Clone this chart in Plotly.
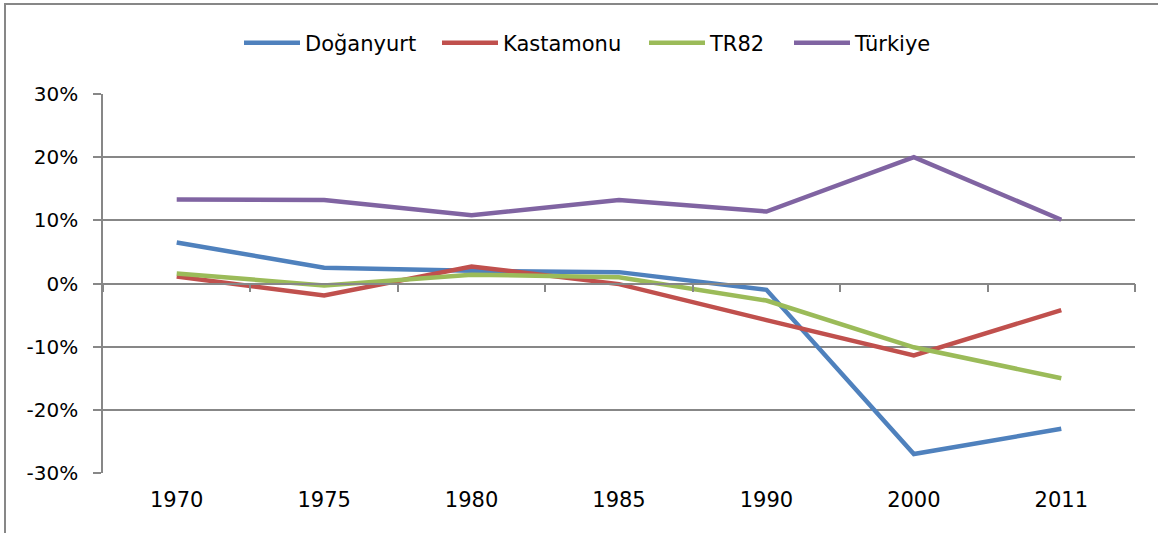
import plotly.graph_objects as go

years = ["1970", "1975", "1980", "1985", "1990", "2000", "2011"]
doganyurt = [6.5, 2.5, 2.0, 1.8, -1.0, -27.0, -23.0]
kastamonu = [1.1, -1.9, 2.7, -0.1, -5.8, -11.4, -4.2]
tr82 = [1.6, -0.3, 1.4, 1.0, -2.7, -10.1, -15.0]
turkiye = [13.3, 13.2, 10.8, 13.2, 11.4, 20.0, 10.1]
y_ticks = [-30, -20, -10, 0, 10, 20, 30]
y_tick_labels = ["-30%", "-20%", "-10%", "0%", "10%", "20%", "30%"]

series = [
    ("Doğanyurt", doganyurt, "#4F81BD"),
    ("Kastamonu", kastamonu, "#C0504D"),
    ("TR82", tr82, "#9BBB59"),
    ("Türkiye", turkiye, "#8064A2"),
]
# legend entry left edges (px in figure)
legend_px = [239, 437, 644, 789]

FONT = "DejaVu Sans"
GRID = "#878787"
W, H = 1158, 533
L, R, T, B = 103, 23, 94, 60
PW, PH = W - L - R, H - T - B

fig = go.Figure()
legend_ids = ["legend", "legend2", "legend3", "legend4"]
for (name, vals, color), lid in zip(series, legend_ids):
    fig.add_trace(go.Scatter(
        x=years, y=vals, name=name, mode="lines",
        line=dict(color=color, width=4.5), legend=lid,
    ))

# invisible trace carrying the zero-line category axis with boundary ticks
fig.add_trace(go.Scatter(
    x=years, y=[0] * len(years), xaxis="x2", mode="lines",
    line=dict(width=0), showlegend=False, hoverinfo="skip",
))

legends = {}
for lid, px in zip(legend_ids, legend_px):
    legends[lid] = dict(
        orientation="h", x=(px - L) / PW, xanchor="left",
        y=1 + 51 / PH, yanchor="middle",
        font=dict(family=FONT, size=21), itemwidth=56,
        bgcolor="rgba(0,0,0,0)",
    )

fig.update_layout(
    width=W, height=H,
    margin=dict(l=L, r=R, t=T, b=B, autoexpand=False),
    paper_bgcolor="white", plot_bgcolor="white",
    font=dict(family=FONT, size=20, color="black"),
    showlegend=True,
    xaxis=dict(
        type="category", range=[-0.5, 6.5], showgrid=False, showline=False,
        ticks="", zeroline=False, ticklabelstandoff=12,
        tickfont=dict(family=FONT, size=21),
    ),
    xaxis2=dict(
        type="category", range=[-0.5, 6.5], overlaying="x", anchor="free",
        position=0.5, showline=True, linecolor=GRID, linewidth=1.5,
        ticks="outside", tickson="boundaries", ticklen=8, tickcolor=GRID,
        tickwidth=1.5, showticklabels=False, showgrid=False, zeroline=False,
        side="bottom",
    ),
    yaxis=dict(
        range=[-30, 30], tickvals=y_ticks, ticktext=y_tick_labels,
        showgrid=True, gridcolor=GRID, gridwidth=1.5,
        showline=True, linecolor=GRID, linewidth=1.5,
        ticks="outside", ticklen=8, tickcolor=GRID, tickwidth=1.5,
        zeroline=False, ticklabelstandoff=11,
    ),
    shapes=[
        dict(type="line", xref="paper", yref="paper",
             x0=(5 - L) / PW, x1=(W + 10 - L) / PW,
             y0=1 + (T - 4) / PH, y1=1 + (T - 4) / PH,
             line=dict(color=GRID, width=2), layer="above"),
        dict(type="line", xref="paper", yref="paper",
             x0=(5 - L) / PW, x1=(5 - L) / PW,
             y0=-(B + 10) / PH, y1=1 + (T - 4) / PH,
             line=dict(color=GRID, width=2), layer="above"),
    ],
    **legends,
)

# chart-frame top edge as a page overlay (decoration only)
frame_js = (
    "document.body.style.margin='0';document.body.style.overflow='hidden';"
    "var f=document.createElement('div');"
    "f.style.cssText='position:absolute;left:4px;top:3px;width:1160px;height:2px;"
    "background:" + GRID + ";pointer-events:none;z-index:10';"
    "document.body.appendChild(f);"
)

fig.write_html(
    "out.html",
    config={"displayModeBar": False},
    post_script=frame_js,
)
